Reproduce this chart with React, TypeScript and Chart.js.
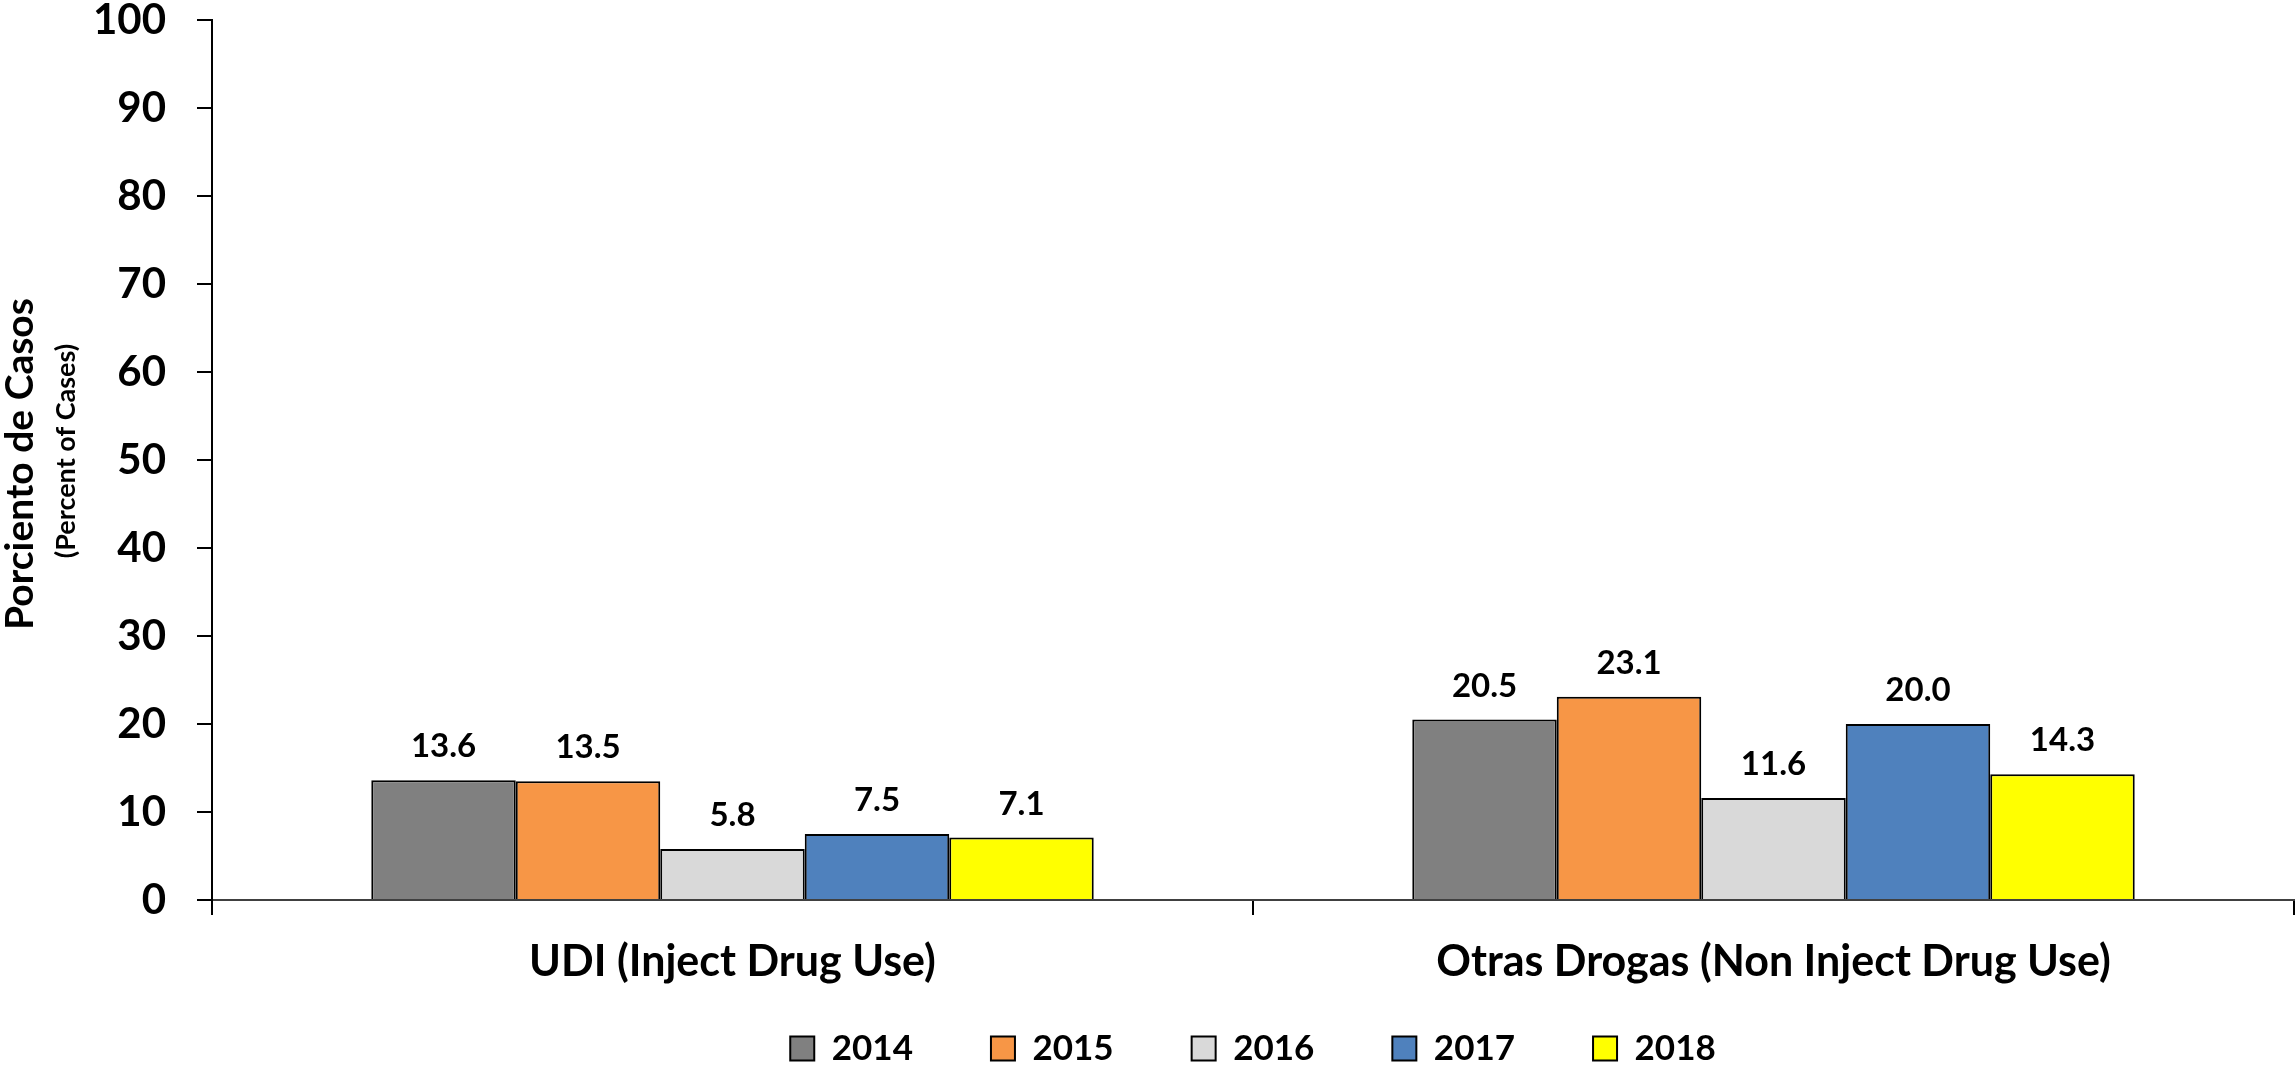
import React, { useEffect, useRef } from "react";
import { Chart, registerables } from "chart.js";

Chart.register(...registerables);

const categories = ["UDI (Inject Drug Use)", "Otras Drogas (Non Inject Drug Use)"];
const years = ["2014", "2015", "2016", "2017", "2018"];
const values2014 = [13.6, 20.5];
const values2015 = [13.5, 23.1];
const values2016 = [5.8, 11.6];
const values2017 = [7.5, 20.0];
const values2018 = [7.1, 14.3];
const seriesValues = [values2014, values2015, values2016, values2017, values2018];
const seriesColors = ["#808080", "#F79646", "#D9D9D9", "#4F81BD", "#FFFF00"];
const yTitle = "Porciento de Casos";
const ySubtitle = "(Percent of Cases)";

const FONT = "Lato, 'Liberation Sans', sans-serif";

const dataLabelPlugin = {
  id: "dataLabels",
  afterDatasetsDraw(chart: any) {
    const ctx = chart.ctx;
    ctx.save();
    ctx.font = `bold 33px ${FONT}`;
    ctx.fillStyle = "#000";
    ctx.textAlign = "center";
    ctx.textBaseline = "alphabetic";
    chart.data.datasets.forEach((ds: any, di: number) => {
      const meta = chart.getDatasetMeta(di);
      meta.data.forEach((el: any, i: number) => {
        ctx.fillText(Number(ds.data[i]).toFixed(1), el.x, el.y - 23);
      });
    });
    ctx.restore();
  },
};

const yTitlePlugin = {
  id: "yTitles",
  afterDraw(chart: any) {
    const ctx = chart.ctx;
    const area = chart.chartArea;
    const yc = (area.top + area.bottom) / 2;
    ctx.save();
    ctx.fillStyle = "#000";
    ctx.textAlign = "center";
    ctx.textBaseline = "alphabetic";
    ctx.save();
    ctx.translate(33, yc + 4);
    ctx.rotate(-Math.PI / 2);
    ctx.font = `bold 39px ${FONT}`;
    ctx.fillText(yTitle, 0, 0);
    ctx.restore();
    ctx.save();
    ctx.translate(75, yc - 9);
    ctx.rotate(-Math.PI / 2);
    ctx.font = `bold 27px ${FONT}`;
    ctx.fillText(ySubtitle, 0, 0);
    ctx.restore();
    ctx.restore();
  },
};

export default function App() {
  const canvasRef = useRef<HTMLCanvasElement | null>(null);

  useEffect(() => {
    const canvas = canvasRef.current;
    if (!canvas) return;
    const chart = new Chart(canvas, {
      type: "bar",
      data: {
        labels: categories,
        datasets: years.map((y, i) => ({
          label: y,
          data: seriesValues[i],
          backgroundColor: seriesColors[i],
          borderColor: "#000",
          borderWidth: 2,
          barPercentage: 1,
          categoryPercentage: 0.694,
        })),
      },
      options: {
        responsive: false,
        maintainAspectRatio: false,
        animation: false,
        devicePixelRatio: 1,
        layout: { padding: { top: 20, left: 0, right: 1, bottom: -10 } },
        plugins: {
          tooltip: { enabled: false },
          title: { display: false },
          legend: {
            display: true,
            position: "bottom",
            fullSize: false,
            labels: {
              color: "#000",
              font: { family: FONT, size: 35, weight: "bold" },
              boxWidth: 24,
              boxHeight: 24,
              padding: 78,
            },
          },
        },
        scales: {
          x: {
            grid: {
              display: true,
              drawOnChartArea: false,
              drawTicks: true,
              tickLength: 15,
              color: "#000",
              lineWidth: 2,
              offset: true,
            },
            border: { display: true, color: "#404040", width: 2 },
            ticks: {
              color: "#000",
              font: { family: FONT, size: 43, weight: "bold" },
              padding: 21,
              maxRotation: 0,
              autoSkip: false,
            },
            afterFit(scale: any) {
              scale.height = 53;
              scale.paddingLeft = 0;
              scale.paddingRight = 0;
              scale._computeLabelArea = () => undefined;
            },
          },
          y: {
            min: 0,
            max: 100,
            grid: {
              display: true,
              drawOnChartArea: false,
              drawTicks: true,
              tickLength: 15,
              color: "#000",
              lineWidth: 2,
            },
            border: { display: true, color: "#000", width: 2 },
            ticks: {
              stepSize: 10,
              color: "#000",
              font: { family: FONT, size: 42, weight: "bold" },
              padding: 31,
            },
            afterFit(scale: any) {
              scale.width = 212;
              scale.paddingTop = 0;
              scale.paddingBottom = 0;
            },
          },
        },
      },
      plugins: [dataLabelPlugin, yTitlePlugin],
    } as any);
    return () => chart.destroy();
  }, []);

  return (
    <div style={{ position: "fixed", left: 0, top: 0, width: 2295, height: 1066, background: "#fff" }}>
      <canvas ref={canvasRef} width={2295} height={1066} style={{ display: "block", width: 2295, height: 1066 }} />
    </div>
  );
}
